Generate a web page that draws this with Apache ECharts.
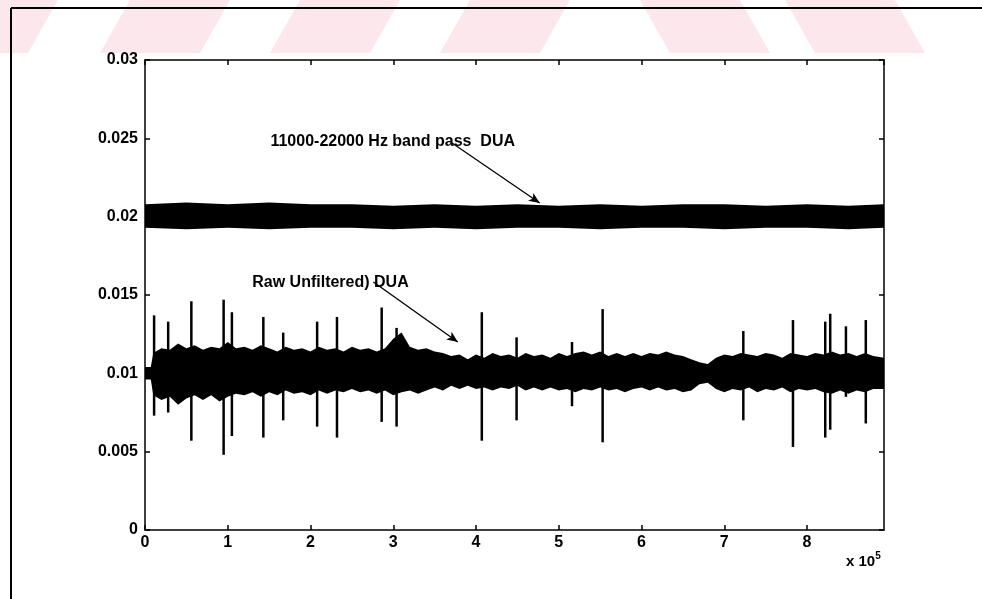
<!DOCTYPE html>
<html>
<head>
<meta charset="utf-8">
<script src="https://cdn.jsdelivr.net/npm/echarts@6/dist/echarts.min.js"></script>
<style>
    html, body {margin: 0; padding: 0; background: #fff;}
    #main {width: 982px; height: 599px;}
</style>
</head>
<body>
<div id="main"></div>
<script>
// x in units of 1e5 samples
var xTicks = [0, 1, 2, 3, 4, 5, 6, 7, 8];
var yTicks = [0, 0.005, 0.01, 0.015, 0.02, 0.025, 0.03];

// 11000-22000 Hz band pass envelope
var bpX = [0, 0.5, 1, 1.5, 2, 2.5, 3, 3.5, 4, 4.5, 5, 5.5, 6, 6.5, 7, 7.5, 8, 8.5, 8.93];
var bpHi = [0.0208, 0.0209, 0.0208, 0.0209, 0.0208, 0.0208, 0.0207, 0.0208, 0.0207, 0.0208, 0.0207, 0.0208, 0.0207, 0.0208, 0.0208, 0.0207, 0.0208, 0.0207, 0.0208];
var bpLo = [0.0193, 0.0192, 0.0193, 0.0192, 0.0193, 0.0193, 0.0192, 0.0193, 0.0192, 0.0193, 0.0193, 0.0192, 0.0193, 0.0193, 0.0192, 0.0193, 0.0193, 0.0192, 0.0193];

// raw (unfiltered) envelope
var rawX = [0, 0.07, 0.1, 0.2, 0.3, 0.4, 0.5, 0.6, 0.7, 0.8, 0.9,
    1.0, 1.1, 1.2, 1.3, 1.4, 1.5, 1.6, 1.7, 1.8, 1.9,
    2.0, 2.1, 2.2, 2.3, 2.4, 2.5, 2.6, 2.7, 2.8, 2.9,
    3.0, 3.1, 3.2, 3.3, 3.4, 3.5, 3.6, 3.7, 3.8, 3.9,
    4.0, 4.1, 4.2, 4.3, 4.4, 4.5, 4.6, 4.7, 4.8, 4.9,
    5.0, 5.1, 5.2, 5.3, 5.4, 5.5, 5.6, 5.7, 5.8, 5.9,
    6.0, 6.1, 6.2, 6.3, 6.4, 6.5, 6.6, 6.7, 6.8, 6.9,
    7.0, 7.1, 7.2, 7.3, 7.4, 7.5, 7.6, 7.7, 7.8, 7.9,
    8.0, 8.1, 8.2, 8.3, 8.4, 8.5, 8.6, 8.7, 8.8, 8.93];
var rawHi = [0.0104, 0.0104, 0.0113, 0.0116, 0.0115, 0.0119, 0.0116, 0.0118, 0.0115, 0.0117, 0.0116,
    0.0120, 0.0116, 0.0117, 0.0115, 0.0118, 0.0116, 0.0114, 0.0117, 0.0115, 0.0116,
    0.0114, 0.0117, 0.0115, 0.0116, 0.0114, 0.0117, 0.0115, 0.0116, 0.0114, 0.0116,
    0.0122, 0.0126, 0.0117, 0.0115, 0.0116, 0.0114, 0.0113, 0.0111, 0.0112, 0.0109,
    0.0112, 0.0110, 0.0113, 0.0111, 0.0112, 0.0110, 0.0113, 0.0111, 0.0112, 0.0110,
    0.0113, 0.0111, 0.0113, 0.0114, 0.0112, 0.0114, 0.0111, 0.0113, 0.0111, 0.0113,
    0.0111, 0.0113, 0.0112, 0.0114, 0.0112, 0.0111, 0.0109, 0.0107, 0.0106, 0.0110,
    0.0112, 0.0111, 0.0113, 0.0112, 0.0111, 0.0113, 0.0112, 0.0110, 0.0113, 0.0112,
    0.0111, 0.0113, 0.0112, 0.0114, 0.0112, 0.0113, 0.0111, 0.0113, 0.0111, 0.0110];
var rawLo = [0.0096, 0.0096, 0.0086, 0.0083, 0.0085, 0.0080, 0.0084, 0.0086, 0.0083, 0.0086, 0.0082,
    0.0085, 0.0087, 0.0086, 0.0088, 0.0085, 0.0088, 0.0086, 0.0089, 0.0087, 0.0088,
    0.0086, 0.0089, 0.0087, 0.0089, 0.0088, 0.0090, 0.0088, 0.0089, 0.0087, 0.0089,
    0.0086, 0.0088, 0.0089, 0.0087, 0.0089, 0.0091, 0.0089, 0.0092, 0.0090, 0.0092,
    0.0090, 0.0091, 0.0089, 0.0091, 0.0090, 0.0092, 0.0089, 0.0091, 0.0089, 0.0091,
    0.0089, 0.0090, 0.0088, 0.0090, 0.0089, 0.0091, 0.0089, 0.0090, 0.0088, 0.0090,
    0.0091, 0.0089, 0.0091, 0.0089, 0.0090, 0.0088, 0.0089, 0.0093, 0.0094, 0.0090,
    0.0088, 0.0090, 0.0089, 0.0091, 0.0088, 0.0090, 0.0089, 0.0091, 0.0088, 0.0090,
    0.0089, 0.0090, 0.0088, 0.0087, 0.0089, 0.0087, 0.0089, 0.0088, 0.0090, 0.0090];

// spikes in the raw signal
var spikeX = [0.11, 0.28, 0.56, 0.95, 1.05, 1.43, 1.67, 2.08, 2.32, 2.86, 3.04, 4.07, 4.49, 5.16, 5.53, 7.23, 7.83, 8.22, 8.28, 8.47, 8.71];
var spikeTop = [0.0137, 0.0133, 0.0146, 0.0147, 0.0139, 0.0136, 0.0126, 0.0133, 0.0136, 0.0142, 0.0129, 0.0139, 0.0123, 0.0120, 0.0141, 0.0127, 0.0134, 0.0133, 0.0138, 0.0130, 0.0134];
var spikeBot = [0.0073, 0.0075, 0.0057, 0.0048, 0.0060, 0.0059, 0.0070, 0.0066, 0.0059, 0.0069, 0.0066, 0.0057, 0.0070, 0.0079, 0.0056, 0.0070, 0.0053, 0.0059, 0.0064, 0.0085, 0.0068];

var font = "'Liberation Sans', Arial, sans-serif";
var myChart = echarts.init(document.getElementById('main'));

// filled band between hi and lo
function band(xs, hi, lo) {
    return function (params, api) {
        if (params.dataIndex !== 0) return;
        var pts = [];
        for (var i = 0; i < xs.length; i++) pts.push(api.coord([xs[i], hi[i]]));
        for (var j = xs.length - 1; j >= 0; j--) pts.push(api.coord([xs[j], lo[j]]));
        return {type: 'polygon', shape: {points: pts}, style: {fill: '#000'}};
    };
}

var spikes = [];
for (var i = 0; i < spikeX.length; i++) spikes.push([spikeX[i], spikeTop[i], spikeBot[i]]);

function axisX(pos, show) {
    return {
        type: 'value', position: pos, min: 0, max: 8.93, interval: 1,
        axisLine: {onZero: false, lineStyle: {color: '#000', width: 1.5}},
        axisTick: {inside: true, length: 5, lineStyle: {color: '#000', width: 1.5}},
        splitLine: {show: false},
        axisLabel: {
            show: show, showMaxLabel: false, margin: 5, color: '#000',
            fontSize: 16, fontWeight: 'bold', fontFamily: font,
            formatter: function (v) { return xTicks.indexOf(v) >= 0 ? String(v) : ''; }
        }
    };
}
function axisY(pos, show) {
    return {
        type: 'value', position: pos, min: 0, max: 0.03, interval: 0.005,
        axisLine: {onZero: false, lineStyle: {color: '#000', width: 1.5}},
        axisTick: {inside: true, length: 5, lineStyle: {color: '#000', width: 1.5}},
        splitLine: {show: false},
        axisLabel: {
            show: show, margin: 7, color: '#000',
            fontSize: 16, fontWeight: 'bold', fontFamily: font,
            formatter: function (v) {
                for (var k = 0; k < yTicks.length; k++) {
                    if (Math.abs(v - yTicks[k]) < 1e-9) return String(yTicks[k]);
                }
                return '';
            }
        }
    };
}

// pink watermark stripes at the top
var pink = '#fce8ec';
var stripes = [
    [[0, 0], [58, 0], [28, 53], [0, 53]],
    [[130, 0], [230, 0], [200, 53], [100, 53]],
    [[300, 0], [400, 0], [370, 53], [270, 53]],
    [[470, 0], [570, 0], [540, 53], [440, 53]],
    [[640, 0], [740, 0], [770, 53], [670, 53]],
    [[785, 0], [895, 0], [925, 53], [815, 53]]
];
var graphics = stripes.map(function (p) {
    return {type: 'polygon', z: -10, shape: {points: p}, style: {fill: pink}};
});
graphics.push({type: 'line', shape: {x1: 11, y1: 8, x2: 982, y2: 8}, style: {stroke: '#000', lineWidth: 2}});
graphics.push({type: 'line', shape: {x1: 11, y1: 8, x2: 11, y2: 599}, style: {stroke: '#000', lineWidth: 2}});
graphics.push({
    type: 'text', left: 846, top: 551,
    style: {
        text: '{a|x 10}{s|5}', fill: '#000',
        rich: {
            a: {fontSize: 15, fontWeight: 'bold', fontFamily: font, verticalAlign: 'bottom'},
            s: {fontSize: 10, fontWeight: 'bold', fontFamily: font, verticalAlign: 'top', padding: [0, 0, 8, 0]}
        }
    }
});

var labelStyle = {show: true, position: 'right', distance: 0, color: '#000', opacity: 1, textBorderWidth: 0, fontSize: 16, fontWeight: 'bold', fontFamily: font};

var option = {
    animation: false,
    backgroundColor: '#fff',
    grid: {left: 145, right: 98, top: 60, bottom: 69},
    xAxis: [axisX('bottom', true), axisX('top', false)],
    yAxis: [axisY('left', true), axisY('right', false)],
    graphic: graphics,
    series: [
        {
            type: 'custom', clip: true, encode: {x: 0, y: 1},
            data: [[bpX[0], bpHi[0]]],
            renderItem: band(bpX, bpHi, bpLo)
        },
        {
            type: 'custom', clip: true, encode: {x: 0, y: 1},
            data: [[rawX[0], rawHi[0]]],
            renderItem: band(rawX, rawHi, rawLo)
        },
        {
            type: 'custom', clip: true, encode: {x: 0, y: [1, 2]},
            data: spikes,
            renderItem: function (params, api) {
                var a = api.coord([api.value(0), api.value(1)]);
                var b = api.coord([api.value(0), api.value(2)]);
                return {type: 'line', shape: {x1: a[0], y1: a[1], x2: b[0], y2: b[1]}, style: {stroke: '#000', lineWidth: 2.5}};
            }
        },
        {
            // annotation text and arrows
            type: 'scatter', symbolSize: 1, silent: true,
            itemStyle: {color: 'rgba(0,0,0,0)'},
            data: [
                {value: [1.51, 0.02477], label: Object.assign({formatter: '11000-22000 Hz band pass  DUA'}, labelStyle)},
                {value: [1.29, 0.01577], label: Object.assign({formatter: 'Raw Unfiltered) DUA'}, labelStyle)}
            ],
            markLine: {
                silent: true, symbol: ['none', 'arrow'], symbolSize: [7, 11],
                label: {show: false},
                lineStyle: {color: '#000', width: 1.3, type: 'solid'},
                data: [
                    [{coord: [3.71, 0.0247]}, {coord: [4.77, 0.02087]}],
                    [{coord: [2.76, 0.01583]}, {coord: [3.78, 0.0120]}]
                ]
            }
        }
    ]
};

myChart.setOption(option);
</script>
</body>
</html>
